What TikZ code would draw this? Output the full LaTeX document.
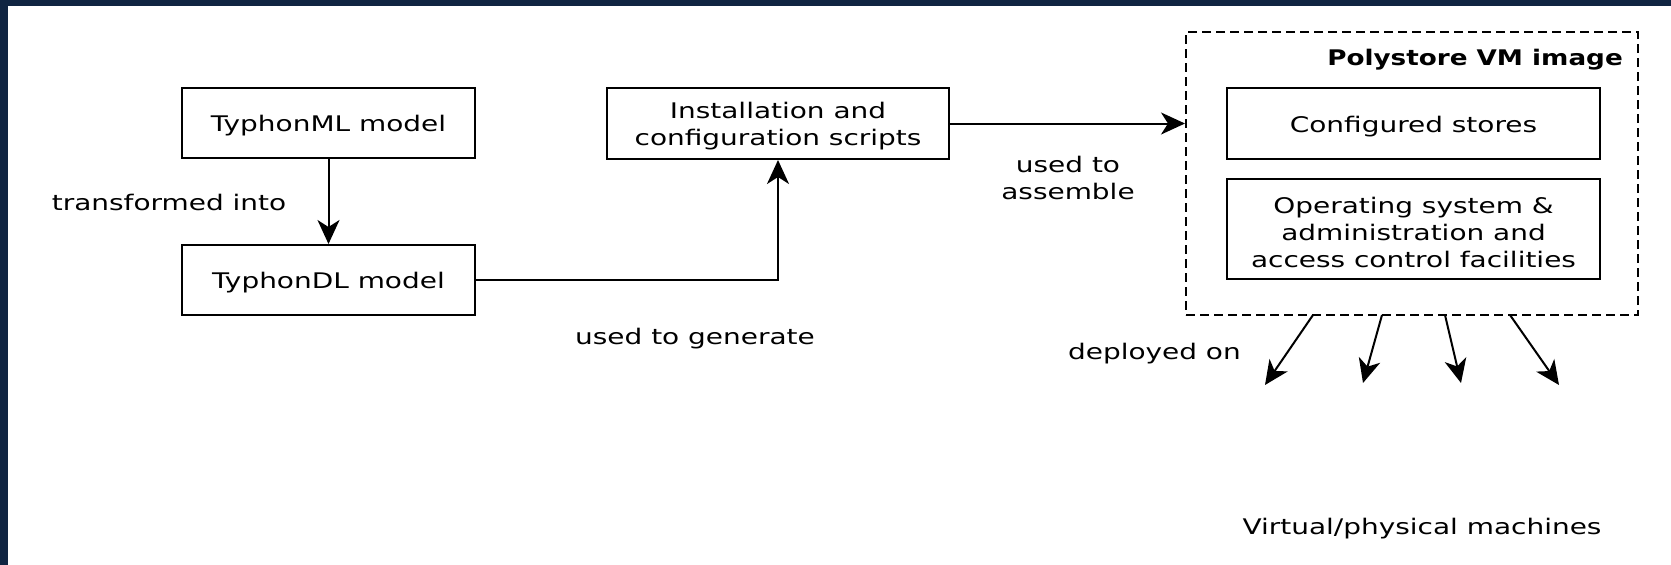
\documentclass[tikz,border=0pt]{standalone}
\usepackage{fontspec}
\setmainfont{DejaVu Sans}[FakeStretch=1.3]
\newfontfamily\titlef{DejaVu Sans}[FakeStretch=1.22]
\usetikzlibrary{arrows.meta}
\definecolor{navy}{RGB}{16,37,66}
\begin{document}
\begin{tikzpicture}[x=1pt,y=-1pt,
  font=\fontsize{21.5}{27}\selectfont,
  boxtext/.style={inner sep=0pt, align=center, yshift=-3pt},
  lbl/.style={inner sep=0pt, align=center},
  conn/.style={line width=2pt, -{Stealth[length=24pt,width=22pt,inset=7pt]}},
  solidbox/.style={draw, line width=2pt}]
\useasboundingbox (0,0) rectangle (1671,565);
\fill[navy] (0,0) rectangle (1671,6);
\fill[navy] (0,0) rectangle (8,565);

\node[solidbox, minimum width=293pt, minimum height=70pt] (ml) at (328.5,123) {};
\node[solidbox, minimum width=293pt, minimum height=70pt] (dl) at (328.5,280) {};
\node[solidbox, minimum width=342pt, minimum height=71pt] (inst) at (778,123.5) {};
\node[draw, dashed, dash pattern=on 9pt off 5pt, line width=2pt, inner sep=0pt, minimum width=452pt, minimum height=283pt] (vm) at (1412,173.5) {};
\node[solidbox, minimum width=373pt, minimum height=71pt] (cs) at (1413.5,123.5) {};
\node[solidbox, minimum width=373pt, minimum height=100pt] (os) at (1413.5,229) {};

\node[boxtext] (mltext) at (ml.center) {TyphonML model};
\node[boxtext] (dltext) at (dl.center) {TyphonDL model};
\node[boxtext] (insttext) at (inst.center) {Installation and\\configuration scripts};
\node[boxtext] (cstext) at (cs.center) {Configured stores};
\node[boxtext] (ostext) at (os.center) {Operating system \&\\administration and\\access control facilities};
\node[boxtext, anchor=east] (title) at (1623,57) {\titlef\bfseries Polystore VM image};

\node[lbl] (t1) at (169,202) {transformed into};
\node[lbl] (t2) at (695,338.5) {used to generate};
\node[lbl] (t3) at (1068,178) {used to\\assemble};
\node[lbl, anchor=east] (t4) at (1241,354) {deployed on};
\node[lbl] (t5) at (1422,529) {Virtual/physical machines};

\draw[conn] (ml.south) -- (dl.north);
\draw[conn] (dl.east) -| (inst.south);
\draw[conn] (inst.east) -- (inst.east -| vm.west);

\coordinate (s1) at (1313,315);
\coordinate (s2) at (1382,315);
\coordinate (s3) at (1445,315);
\coordinate (s4) at (1510,315);
\coordinate (e1) at (1265,385);
\coordinate (e2) at (1363,383);
\coordinate (e3) at (1461,383);
\coordinate (e4) at (1559,385);
\draw[conn] (s1) -- (e1);
\draw[conn] (s2) -- (e2);
\draw[conn] (s3) -- (e3);
\draw[conn] (s4) -- (e4);
\end{tikzpicture}
\end{document}
